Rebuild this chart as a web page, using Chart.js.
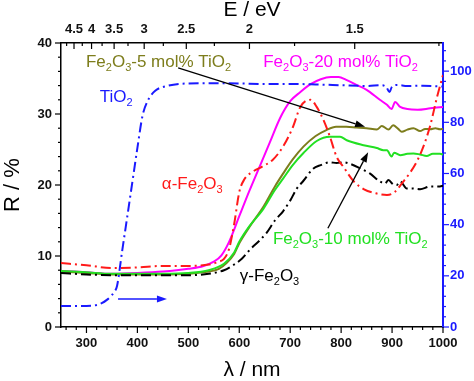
<!DOCTYPE html>
<html><head><meta charset="utf-8">
<script src="https://cdn.jsdelivr.net/npm/chart.js@4.4.0/dist/chart.umd.min.js"></script>
<style>html,body{margin:0;padding:0;background:#fff;}#wrap{width:474px;height:381px;position:relative;}</style>
</head><body><div id="wrap"><canvas id="c"></canvas></div>
<script>
// ---------- data ----------
const xTicks = [300,400,500,600,700,800,900,1000];
const yTicks = [0,10,20,30,40];
const y2Ticks = [0,20,40,60,80,100];
const topEV = [4.5,4,3.5,3,2.5,2,1.5];
const topEVMinor = [4.75,4.25,3.75,3.25,2.75,2.25,1.75,1.25];

const tio2X = [250,280,310,320,330,340,350,355,360,370,380,390,400,410,420,435,460,500,550,600,650,700,750,800,850,880,889,895,899,910,930,960,1000];
const tio2Y = [8.2,8.2,8.3,8.6,9.3,10.6,12.5,13.8,16.0,29.6,43.0,56.5,70.0,82.5,88.3,92.3,94.3,95.2,95.3,95.2,95.0,95.0,94.8,94.5,94.2,94.5,93.7,91.8,93.6,94.6,94.2,94.3,94.0];

const redX = [250,300,350,400,450,500,540,560,570,580,590,600,610,625,645,665,685,705,720,740,752,765,778,791,805,825,845,870,890,905,920,935,950,962,975,988,1000];
const redY = [9.0,8.7,8.3,8.4,8.6,8.6,8.8,9.2,9.6,11.0,14.5,19.0,20.8,21.8,22.6,23.5,25.3,28.1,31.0,32.0,31.0,29.2,26.8,24.0,22.5,20.5,19.4,18.8,18.6,19.0,20.3,21.7,23.5,25.5,28.4,32.3,35.5];

const magX = [250,300,350,400,450,500,530,550,565,580,600,620,640,660,680,700,720,740,760,780,795,810,830,850,876,890,899,906,916,930,950,975,1000];
const magY = [7.9,7.7,7.5,7.6,7.8,8.2,8.6,9.2,10.1,12.0,15.6,19.2,22.6,26.0,29.4,31.8,33.1,34.2,34.9,35.2,35.2,34.8,34.1,33.4,32.0,31.3,30.7,31.7,31.0,30.7,30.6,30.8,31.0];

const oliveX = [250,300,350,400,450,500,540,560,575,590,600,620,647,670,686,705,726,750,770,790,810,830,850,870,880,893,902,912,919,930,942,955,965,975,985,994,1000];
const oliveY = [7.8,7.6,7.4,7.4,7.4,7.5,7.8,8.2,9.0,10.3,11.8,14.1,16.9,19.8,21.6,23.6,25.4,26.9,27.7,28.2,28.2,28.1,28.0,27.8,28.3,27.8,28.4,27.9,27.5,27.8,28.0,27.6,27.9,27.85,28.0,27.85,27.9];

const greenX = [250,300,350,400,450,500,540,570,590,600,620,647,670,686,705,726,752,778,798,811,844,870,883,890,899,904,916,930,942,955,968,980,994,1000];
const greenY = [7.9,7.7,7.5,7.5,7.5,7.6,8.0,8.9,10.5,12.0,14.2,16.6,19.3,20.9,22.8,24.5,26.2,26.8,26.8,26.3,25.6,25.2,24.9,24.9,24.0,24.55,24.2,24.4,24.45,24.3,24.1,24.4,24.4,24.3];

const blackX = [250,300,350,400,450,500,540,570,590,605,621,640,654,670,686,700,713,726,745,760,778,791,805,817,837,857,876,886,893,902,909,916,929,940,955,975,994,1000];
const blackY = [7.6,7.4,7.3,7.3,7.3,7.3,7.5,8.0,8.8,9.6,10.9,12.2,13.3,15.0,16.3,17.8,19.5,20.6,22.3,22.8,23.2,23.1,23.2,23.0,22.35,21.6,20.5,20.2,20.7,20.1,20.0,20.5,19.5,19.5,19.4,19.8,19.8,19.9];

// ---------- helpers ----------
const FONT = '"Liberation Sans", Arial, Helvetica, sans-serif';
const pts = (xs, ys) => xs.map((x, i) => ({x, y: ys[i]}));
const BLUE = '#1a1aff', RED = '#ff1a1a', MAG = '#ff00ff', OLIVE = '#7d7d1c', GREEN = '#22e022';
const DASHDOT = [10,4,2,4];

function rich(ctx, x, y, segs, color) {
  ctx.save();
  ctx.fillStyle = color;
  ctx.textBaseline = 'alphabetic';
  ctx.textAlign = 'left';
  let cx = x;
  for (const [t, sub] of segs) {
    ctx.font = (sub ? '11px ' : '17px ') + FONT;
    ctx.fillText(t, cx, y + (sub ? 4 : 0));
    cx += ctx.measureText(t).width;
  }
  ctx.restore();
}
function arrow(ctx, x1, y1, x2, y2, color, lw) {
  ctx.save();
  ctx.strokeStyle = color; ctx.fillStyle = color; ctx.lineWidth = lw; ctx.setLineDash([]);
  const a = Math.atan2(y2 - y1, x2 - x1), L = 10, W = 3.5;
  const bx = x2 - L * Math.cos(a), by = y2 - L * Math.sin(a);
  ctx.beginPath(); ctx.moveTo(x1, y1); ctx.lineTo(bx, by); ctx.stroke();
  ctx.beginPath(); ctx.moveTo(x2, y2);
  ctx.lineTo(bx + W * Math.sin(a), by - W * Math.cos(a));
  ctx.lineTo(bx - W * Math.sin(a), by + W * Math.cos(a));
  ctx.closePath(); ctx.fill();
  ctx.restore();
}

const decor = {
  id: 'decor',
  afterDraw(chart) {
    const {ctx, chartArea: ca, scales: {x, y, y2}} = chart;
    // tick marks
    ctx.save();
    ctx.lineWidth = 1.2; ctx.setLineDash([]);
    const vt = (scale, v, x0, len, color) => {
      const p = scale.getPixelForValue(v);
      ctx.strokeStyle = color; ctx.beginPath(); ctx.moveTo(x0, p); ctx.lineTo(x0 + len, p); ctx.stroke();
    };
    const ht = (v, y0, len) => {
      const p = x.getPixelForValue(v);
      ctx.strokeStyle = '#000'; ctx.beginPath(); ctx.moveTo(p, y0); ctx.lineTo(p, y0 + len); ctx.stroke();
    };
    for (let v = 0; v <= 40; v += 2) vt(y, v, ca.left, v % 10 === 0 ? -6 : -3, '#000');
    for (let v = 0; v <= 108; v += 4) vt(y2, v, ca.right, v % 20 === 0 ? 6 : 3, BLUE);
    for (let v = 260; v <= 1000; v += 20) ht(v, ca.bottom, v % 100 === 0 ? 6 : 3);
    topEV.forEach(e => ht(1240 / e, ca.top, 6));
    topEVMinor.forEach(e => ht(1240 / e, ca.top, 3));
    ctx.restore();

    const X = v => x.getPixelForValue(v), Y = v => y.getPixelForValue(v);
    // labels
    rich(ctx, X(299), Y(36.6), [['Fe',0],['2',1],['O',0],['3',1],['-5 mol% TiO',0],['2',1]], OLIVE);
    rich(ctx, X(647), Y(36.6), [['Fe',0],['2',1],['O',0],['3',1],['-20 mol% TiO',0],['2',1]], MAG);
    rich(ctx, X(326), Y(31.7), [['TiO',0],['2',1]], BLUE);
    rich(ctx, X(448), Y(19.4), [['\u03b1-Fe',0],['2',1],['O',0],['3',1]], RED);
    rich(ctx, X(666), Y(11.7), [['Fe',0],['2',1],['O',0],['3',1],['-10 mol% TiO',0],['2',1]], GREEN);
    rich(ctx, X(601), Y(6.5), [['\u03b3-Fe',0],['2',1],['O',0],['3',1]], '#000');
    // arrows
    arrow(ctx, X(480), Y(36.5), X(847), Y(28.2), '#000', 1.3);
    arrow(ctx, X(774), Y(13.9), X(853), Y(24.6), '#000', 1.3);
    arrow(ctx, X(362), Y(3.94), X(458), Y(3.94), BLUE, 1.6);
  }
};

const ds = (label, xs, ys, color, dash, axis) => ({
  label, data: pts(xs, ys), borderColor: color, backgroundColor: color,
  borderWidth: 2, borderDash: dash || [], pointRadius: 0, fill: false,
  cubicInterpolationMode: 'monotone', yAxisID: axis || 'y'
});

const tickFont = {family: FONT, size: 13, weight: 'bold'};
const titleFont = s => ({family: FONT, size: s, lineHeight: 1});

new Chart(document.getElementById('c'), {
  type: 'line',
  data: {datasets: [
    ds('TiO2', tio2X, tio2Y, BLUE, DASHDOT, 'y2'),
    ds('\u03b1-Fe2O3', redX, redY, RED, DASHDOT),
    ds('\u03b3-Fe2O3', blackX, blackY, '#000', DASHDOT),
    ds('Fe2O3-10 mol% TiO2', greenX, greenY, GREEN),
    ds('Fe2O3-5 mol% TiO2', oliveX, oliveY, OLIVE),
    ds('Fe2O3-20 mol% TiO2', magX, magY, MAG)
  ]},
  options: {
    responsive: true, maintainAspectRatio: false, animation: false,
    layout: {padding: 0},
    plugins: {legend: {display: false}, tooltip: {enabled: false}},
    scales: {
      x: {
        type: 'linear', position: 'bottom', min: 250, max: 1000,
        afterBuildTicks: s => { s.ticks = xTicks.map(v => ({value: v})); },
        afterFit: s => { s.height = 54; },
        grid: {display: false, drawTicks: false},
        border: {display: true, color: '#000', width: 1.5},
        ticks: {font: tickFont, color: '#111', padding: 9, maxRotation: 0, autoSkip: false,
          callback: v => String(v)},
        title: {display: true, text: '\u03bb / nm', font: titleFont(21), color: '#000', padding: 0}
      },
      x2: {
        type: 'linear', position: 'top', min: 250, max: 1000,
        afterBuildTicks: s => { s.ticks = topEV.map(e => ({value: 1240 / e})); },
        afterFit: s => { s.height = 43; },
        grid: {display: false, drawTicks: false},
        border: {display: true, color: '#000', width: 1.5},
        ticks: {font: tickFont, color: '#111', padding: 6, maxRotation: 0, autoSkip: false,
          callback: v => String(+(1240 / v).toFixed(2))},
        title: {display: true, text: 'E / eV', font: titleFont(21), color: '#000', padding: 0}
      },
      y: {
        type: 'linear', position: 'left', min: 0, max: 40,
        afterBuildTicks: s => { s.ticks = yTicks.map(v => ({value: v})); },
        afterFit: s => { s.width = 61; },
        grid: {display: false, drawTicks: false},
        border: {display: true, color: '#000', width: 1.5},
        ticks: {font: tickFont, color: '#111', padding: 9, callback: v => String(v)},
        title: {display: true, text: 'R / %', font: titleFont(22), color: '#000', padding: {top: 2, bottom: 0}}
      },
      y2: {
        type: 'linear', position: 'right', min: 0, max: 111,
        afterBuildTicks: s => { s.ticks = y2Ticks.map(v => ({value: v})); },
        afterFit: s => { s.width = 31; },
        grid: {display: false, drawTicks: false},
        border: {display: true, color: BLUE, width: 2},
        ticks: {font: tickFont, color: BLUE, padding: 7, callback: v => String(v)}
      }
    }
  },
  plugins: [decor]
});
</script>
</body></html>
